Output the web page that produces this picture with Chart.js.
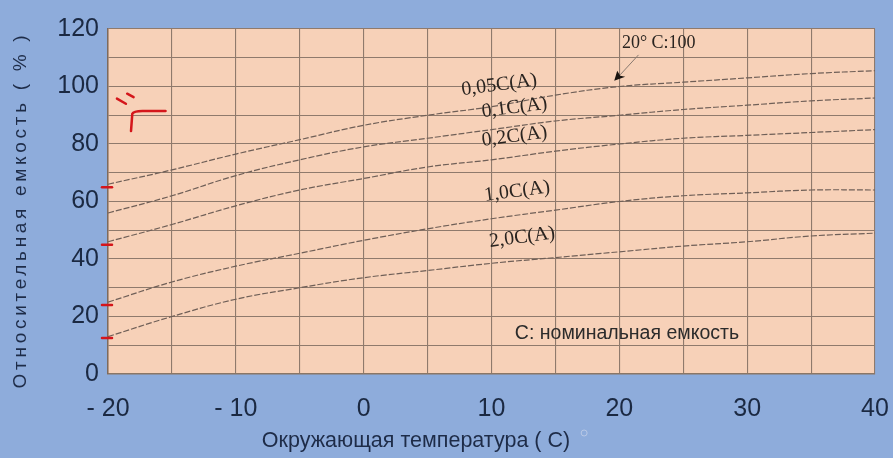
<!DOCTYPE html>
<html>
<head>
<meta charset="utf-8">
<script src="https://cdn.jsdelivr.net/npm/chart.js@4.4.1/dist/chart.umd.min.js"></script>
<style>
  html, body { margin: 0; padding: 0; background: #8eacdb; }
  #wrap { width: 893px; height: 458px; }
</style>
</head>
<body>
<div id="wrap"><canvas id="chart"></canvas></div>
<script>
// temperatures, deg C
const temps = [-20, -15, -10, -5, 0, 5, 10, 15, 20, 25, 30, 35, 40];

// relative capacity (%) per discharge current
const cap005 = [66, 71, 76.5, 81.5, 86.5, 90, 93, 97, 100, 101.5, 103, 104.5, 105.5];
const cap01  = [56, 62, 69, 74.5, 79, 82, 85, 88, 90, 92, 93.5, 95, 96];
const cap02  = [46, 52, 58.5, 64, 68, 72, 74.5, 77.5, 80, 82, 83, 84, 85];
const cap10  = [25, 32, 37.5, 42, 46.5, 50.5, 54, 57, 60, 62, 63, 64, 64];
const cap20  = [13, 20, 26, 30, 33.5, 36, 38.5, 40.5, 42.5, 44.5, 46, 48, 49];

const seriesNames = ['0,05C(A)', '0,1C(A)', '0,2C(A)', '1,0C(A)', '2,0C(A)'];
const seriesData = [cap005, cap01, cap02, cap10, cap20];

// where the curve names sit (temperature, capacity)
const labelSpots = [[10.6, 100.5], [11.8, 92.6], [11.8, 82.6], [12, 63.5], [12.4, 47.5]];

const yTitle = 'Относительная емкость ( % )';
const xTitle = 'Окружающая температура ( С)';
const noteText = 'C: номинальная емкость';
const refText = '20° C:100';

const lineColor = '#6f5f57';

function fmtTemp(v) {
    if (v % 10 !== 0) return '';
    return v < 0 ? '- ' + Math.abs(v) : String(v);
}

const datasets = seriesData.map((arr, i) => ({
    label: seriesNames[i],
    data: temps.map((t, j) => ({x: t, y: arr[j]})),
    borderColor: lineColor,
    borderWidth: 1.2,
    borderDash: [6, 2],
    pointRadius: 0,
    tension: 0.4,
    fill: false
}));

const paintBg = {
    id: 'paintBg',
    beforeDraw(chart) {
        const ctx = chart.ctx, a = chart.chartArea;
        ctx.save();
        ctx.fillStyle = '#8eacdb';
        ctx.fillRect(0, 0, chart.width, chart.height);
        ctx.fillStyle = '#f7d1b8';
        ctx.fillRect(a.left, a.top, a.right - a.left, a.bottom - a.top);
        ctx.restore();
    }
};

const annotations = {
    id: 'annotations',
    afterDatasetsDraw(chart) {
        const ctx = chart.ctx;
        const xs = chart.scales.x, ys = chart.scales.y;
        const a = chart.chartArea;
        ctx.save();

        // curve names
        ctx.fillStyle = '#2a2420';
        ctx.font = '20px "Liberation Serif", "DejaVu Serif", serif';
        ctx.textAlign = 'center';
        ctx.textBaseline = 'middle';
        labelSpots.forEach((p, i) => {
            ctx.save();
            ctx.translate(xs.getPixelForValue(p[0]), ys.getPixelForValue(p[1]));
            ctx.rotate(-7.5 * Math.PI / 180);
            ctx.fillText(seriesNames[i], 0, 0);
            ctx.restore();
        });

        // "20 C:100" with arrow to the 0.05C curve at 20 deg
        ctx.font = '18px "Liberation Serif", serif';
        ctx.textAlign = 'left';
        ctx.textBaseline = 'alphabetic';
        const tx = xs.getPixelForValue(20.2), ty = ys.getPixelForValue(113.5);
        ctx.fillText(refText, tx, ty);
        const ax = xs.getPixelForValue(19.6), ay = ys.getPixelForValue(102);
        const bx = xs.getPixelForValue(21.5), by = ys.getPixelForValue(111);
        ctx.strokeStyle = '#8a7a70';
        ctx.lineWidth = 1;
        ctx.beginPath();
        ctx.moveTo(bx, by);
        ctx.lineTo(ax + 6, ay - 6);
        ctx.stroke();
        ctx.fillStyle = '#1a1410';
        ctx.beginPath();
        ctx.moveTo(ax, ay);
        ctx.lineTo(ax + 3, ay - 10);
        ctx.lineTo(ax + 6, ay - 5);
        ctx.lineTo(ax + 11, ay - 4);
        ctx.closePath();
        ctx.fill();

        // note
        ctx.fillStyle = '#2b2b2b';
        ctx.font = '19.5px "Liberation Sans", Arial, sans-serif';
        ctx.textAlign = 'center';
        ctx.textBaseline = 'middle';
        ctx.fillText(noteText, xs.getPixelForValue(20.6), ys.getPixelForValue(14.2));

        // red hand marks
        ctx.strokeStyle = '#d4161b';
        ctx.lineWidth = 2.5;
        ctx.lineCap = 'round';
        [65, 45, 24, 12.5].forEach(v => {
            const y = ys.getPixelForValue(v);
            ctx.beginPath();
            ctx.moveTo(a.left - 6, y);
            ctx.lineTo(a.left + 4, y);
            ctx.stroke();
        });
        ctx.beginPath();
        ctx.moveTo(xs.getPixelForValue(-18.2), ys.getPixelForValue(84.5));
        ctx.lineTo(xs.getPixelForValue(-18.1), ys.getPixelForValue(90.5));
        ctx.quadraticCurveTo(xs.getPixelForValue(-18), ys.getPixelForValue(91.5),
                             xs.getPixelForValue(-17.3), ys.getPixelForValue(91.5));
        ctx.lineTo(xs.getPixelForValue(-15.5), ys.getPixelForValue(91.5));
        ctx.stroke();
        ctx.beginPath();
        ctx.moveTo(xs.getPixelForValue(-19.3), ys.getPixelForValue(95.8));
        ctx.lineTo(xs.getPixelForValue(-18.6), ys.getPixelForValue(94));
        ctx.moveTo(xs.getPixelForValue(-18.5), ys.getPixelForValue(97.5));
        ctx.lineTo(xs.getPixelForValue(-18), ys.getPixelForValue(96.3));
        ctx.stroke();

        ctx.restore();
    },
    afterDraw(chart) {
        const ctx = chart.ctx;
        ctx.save();
        ctx.fillStyle = '#1e2c48';
        ctx.font = '21.5px "Liberation Sans", Arial, sans-serif';
        ctx.textAlign = 'center';
        ctx.textBaseline = 'middle';
        // x axis title
        const cx = 416;
        ctx.fillText(xTitle, cx, 441);
        const w = ctx.measureText(xTitle).width;
        ctx.strokeStyle = '#b9c9e6';
        ctx.lineWidth = 1;
        ctx.beginPath();
        ctx.arc(cx + w / 2 + 14, 433, 3, 0, Math.PI * 2);
        ctx.stroke();
        // y axis title, letter spaced
        ctx.translate(21, 210);
        ctx.rotate(-Math.PI / 2);
        ctx.letterSpacing = '3.7px';
        ctx.font = '19px "Liberation Sans", Arial, sans-serif';
        ctx.fillText(yTitle, 0, 0);
        ctx.restore();
    }
};

new Chart(document.getElementById('chart'), {
    type: 'line',
    data: { datasets: datasets },
    options: {
        responsive: true,
        maintainAspectRatio: false,
        animation: false,
        layout: { padding: { top: 29, right: 18, left: 0, bottom: 0 } },
        plugins: {
            legend: { display: false },
            tooltip: { enabled: false }
        },
        scales: {
            x: {
                type: 'linear',
                min: -20,
                max: 40,
                afterFit(scale) {
                    scale.height = 84;
                    scale.paddingLeft = 0;
                    scale.paddingRight = 0;
                },
                grid: { color: '#8f7a6c', lineWidth: 1.1, drawTicks: false },
                border: { color: '#8a7666', width: 1.5 },
                ticks: {
                    stepSize: 5,
                    autoSkip: false,
                    maxRotation: 0,
                    padding: 20,
                    color: '#1b2942',
                    font: { size: 25, family: '"Liberation Sans", Arial, sans-serif' },
                    callback: v => fmtTemp(v)
                }
            },
            y: {
                min: 0,
                max: 120,
                afterFit(scale) {
                    scale.width = 108;
                    scale.paddingTop = 0;
                    scale.paddingBottom = 0;
                },
                grid: { color: '#8f7a6c', lineWidth: 1.1, drawTicks: false },
                border: { color: '#7e6a5c', width: 1.5 },
                ticks: {
                    stepSize: 10,
                    autoSkip: false,
                    padding: 9,
                    color: '#1b2942',
                    font: { size: 25, family: '"Liberation Sans", Arial, sans-serif' },
                    callback: v => (v % 20 === 0 ? v : '')
                }
            }
        }
    },
    plugins: [paintBg, annotations]
});
</script>
</body>
</html>
